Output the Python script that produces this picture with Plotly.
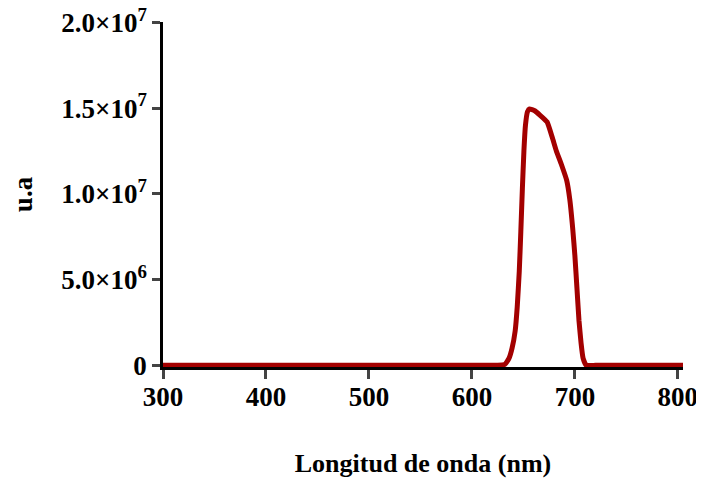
import plotly.graph_objects as go

# Wavelength (nm) and intensity (u.a.)
wavelength = [300, 350, 400, 450, 500, 550, 600, 625, 632, 636, 639, 642, 644, 646, 647.5, 649, 650.5,
              652, 654, 656, 661, 666, 673, 678, 682, 687, 692, 695, 698, 700, 702, 704, 706, 708, 711,
              720, 750, 800, 805]
intensity = [0, 0, 0, 0, 0, 0, 0, 0, 0.05e6, 0.4e6, 1.0e6, 2.0e6, 3.4e6, 5.5e6, 7.8e6, 1.03e7, 1.25e7,
             1.4e7, 1.48e7, 1.496e7, 1.485e7, 1.46e7, 1.42e7, 1.33e7, 1.25e7, 1.17e7, 1.08e7, 9.7e6,
             7.9e6, 6.4e6, 4.5e6, 2.6e6, 1.3e6, 0.4e6, 0, 0, 0, 0, 0]

x_ticks = [300, 400, 500, 600, 700, 800]
y_ticks = [0, 5e6, 1e7, 1.5e7, 2e7]
y_ticktext = ["0", "5.0×10<sup>6</sup>", "1.0×10<sup>7</sup>", "1.5×10<sup>7</sup>", "2.0×10<sup>7</sup>"]

font_family = "Liberation Serif, Times New Roman, serif"

fig = go.Figure()
fig.add_trace(go.Scatter(
    x=wavelength, y=intensity, mode="lines",
    line=dict(color="#a30000", width=5, shape="spline", smoothing=0.4),
    showlegend=False,
))

fig.update_layout(
    width=696, height=475,
    margin=dict(l=155, r=21, t=14, b=116),
    paper_bgcolor="white", plot_bgcolor="white",
    font=dict(family=font_family, size=27, color="black"),
    xaxis=dict(
        range=[300, 805], tickvals=x_ticks, ticks="outside", ticklen=9, tickwidth=2.5,
        showline=True, linewidth=2.5, linecolor="black", showgrid=False, zeroline=False,
        automargin=False, ticklabelstandoff=-5, ticklabeloverflow="allow",
        tickfont=dict(family=font_family, size=27, color="black", weight="bold"),
        title=dict(text="<b>Longitud de onda (nm)</b>", standoff=43,
                   font=dict(family=font_family, size=26, color="black")),
    ),
    yaxis=dict(
        range=[-0.1e6, 2.003e7], tickvals=y_ticks, ticktext=y_ticktext, ticks="outside", ticklen=8,
        tickwidth=2.5, showline=True, linewidth=2.5, linecolor="black", showgrid=False, zeroline=False,
        automargin=False, ticklabeloverflow="allow",
        tickfont=dict(family=font_family, size=27, color="black", weight="bold"),
        title=dict(text="<b>u.a</b>", standoff=30,
                   font=dict(family=font_family, size=27, color="black")),
    ),
)

fig.write_html("out.html")
